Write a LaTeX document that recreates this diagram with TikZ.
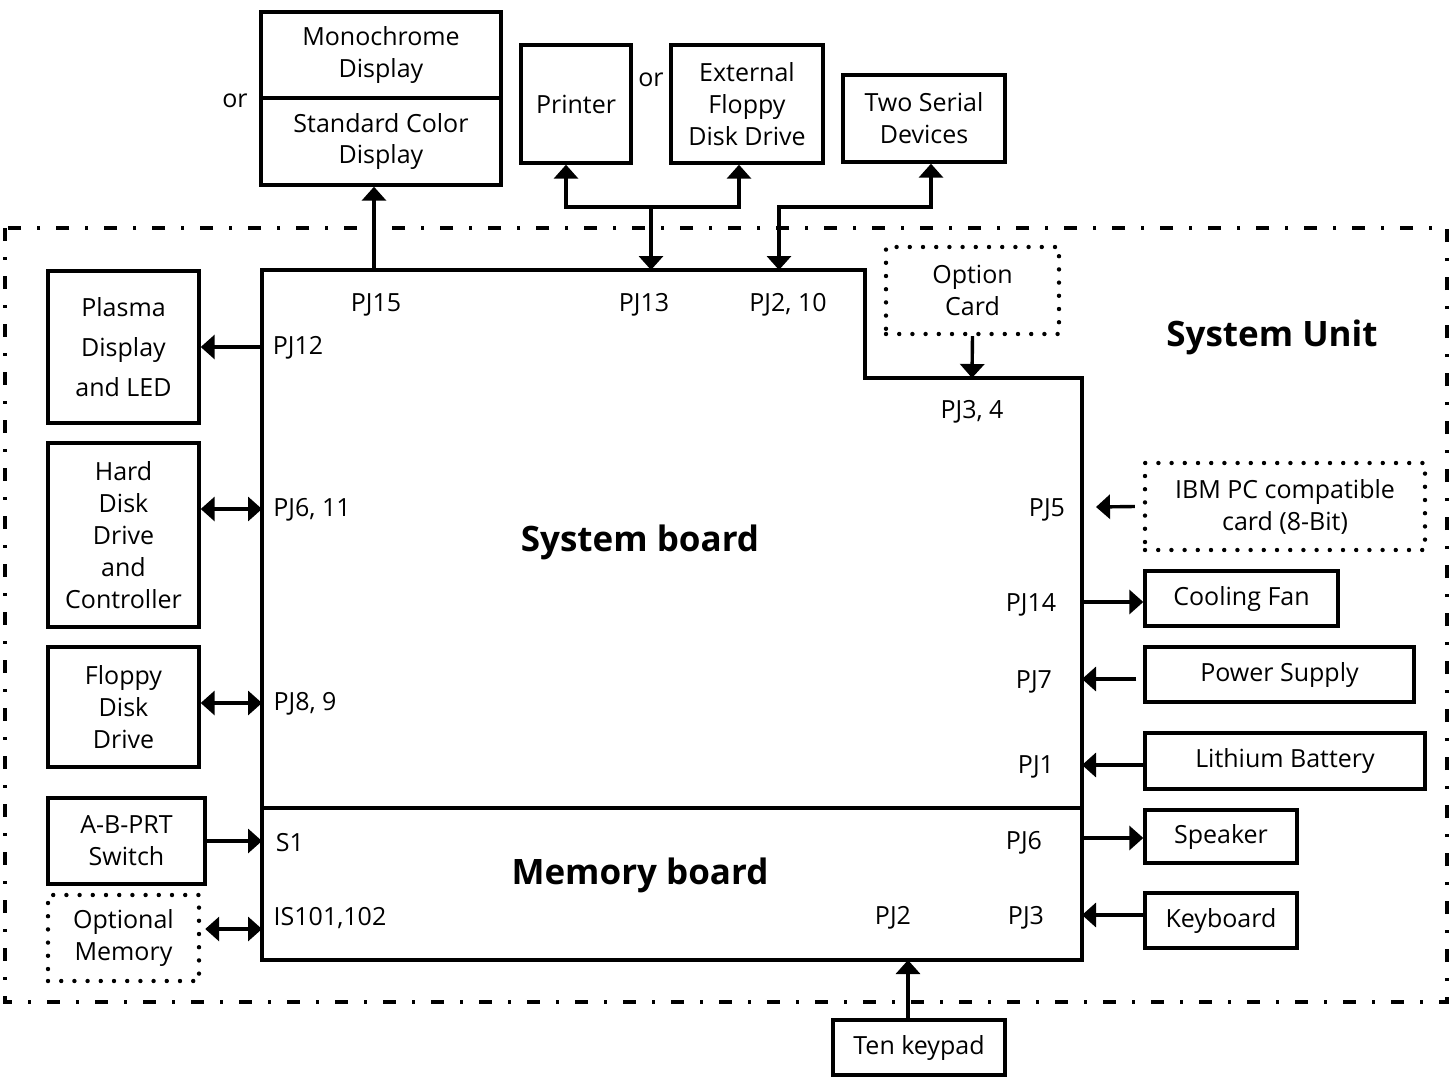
\documentclass[tikz,border=0pt]{standalone}
\usepackage{fontspec}
\setmainfont{Open Sans}
\usetikzlibrary{arrows.meta}
\tikzset{
  box/.style={draw, line width=1.7pt, align=center, inner sep=0pt,
    font=\fontsize{12.5}{16}\selectfont},
  optbox/.style={box, line width=2.2pt, line cap=round, dash pattern=on 0pt off 6.6pt},
  board/.style={line width=1.7pt},
  unit/.style={line width=1.6pt, dash pattern=on 6.5pt off 8pt on 1.5pt off 8pt},
  port/.style={font=\fontsize{12.5}{16}\selectfont, yshift=-1.5pt},
  title/.style={font=\fontsize{17.5}{20}\selectfont\bfseries, yshift=-2pt},
  arr/.style={line width=1.7pt, -{Triangle[length=7pt,width=12pt]}},
  arrboth/.style={line width=1.7pt, {Triangle[length=7pt,width=12pt]}-{Triangle[length=7pt,width=12pt]}}
}

\begin{document}
\begin{tikzpicture}[x=0.5pt, y=-0.5pt]
\useasboundingbox (0,0) rectangle (1453,1077);
% System unit
    \draw[unit] (5,228) rectangle (1447,1002);
    \node[title] (unitlabel) at (1272,333) {System Unit};
% Boards
    \draw[board] (262,808) -- (262,270) -- (865,270) -- (865,378) -- (1082,378) -- (1082,808) -- cycle;
    \draw[board] (262,808) rectangle (1082,960);
    \node[title] (sysboard) at (640,538) {System board};
    \node[title] (memboard) at (640,871) {Memory board};
% Ports
    \coordinate (pj15) at (374,270);
    \coordinate (pj13) at (651,270);
    \coordinate (pj210) at (779,270);
    \coordinate (pj34) at (972,378);
    \coordinate (pj12) at (262,347);
    \coordinate (pj611) at (262,509);
    \coordinate (pj89) at (262,703);
    \coordinate (s1) at (262,841);
    \coordinate (is101) at (262,929);
    \coordinate (pj5) at (1096,507);
    \coordinate (pj14) at (1082,602);
    \coordinate (pj7) at (1082,679);
    \coordinate (pj1) at (1082,765);
    \coordinate (pj6) at (1082,838);
    \coordinate (pj3) at (1082,915);
    \coordinate (pj2) at (908,960);
    \coordinate (split) at (651,207);
    \coordinate (bend) at (779,207);
    \node[port] (lpj15) at (376,302) {PJ15};
    \node[port] (lpj13) at (644,302) {PJ13};
    \node[port] (lpj210) at (788,302) {PJ2, 10};
    \node[port] (lpj12) at (298,345) {PJ12};
    \node[port] (lpj611) at (312,507) {PJ6, 11};
    \node[port] (lpj89) at (305,701) {PJ8, 9};
    \node[port] (lpj34) at (972,409) {PJ3, 4};
    \node[port] (lpj5) at (1047,507) {PJ5};
    \node[port] (lpj14) at (1031,602) {PJ14};
    \node[port] (lpj7) at (1034,679) {PJ7};
    \node[port] (lpj1) at (1036,764) {PJ1};
    \node[port] (ls1) at (290,840) {S1};
    \node[port] (lis101) at (330,915) {IS101,102};
    \node[port] (lpj6) at (1024,840) {PJ6};
    \node[port] (lpj2) at (893,915) {PJ2};
    \node[port] (lpj3) at (1026,915) {PJ3};
% Outside devices
    \node[box, minimum width=120pt, minimum height=43pt] (mono) at (381,55) {Monochrome\\Display};
    \node[box, minimum width=120pt, minimum height=43.5pt] (color) at (381,141.5) {Standard Color\\Display};
    \node[port] (or1) at (235,98) {or};
    \node[box, minimum width=55pt, minimum height=59pt] (printer) at (576,104) {Printer};
    \node[port] (or2) at (651,77) {or};
    \node[box, minimum width=76pt, minimum height=59pt] (extfloppy) at (747,104) {External\\Floppy\\Disk Drive};
    \node[box, minimum width=81pt, minimum height=43.5pt] (serial) at (924,118.5) {Two Serial\\Devices};
    \node[box, minimum width=86pt, minimum height=27.5pt] (tenkey) at (919,1047.5) {Ten keypad};
% Inside devices, left
    \node[box, minimum width=75.5pt, minimum height=76pt, font=\fontsize{12.5}{20}\selectfont] (plasma) at (123.5,347) {Plasma\\Display\\and LED};
    \node[box, minimum width=75.5pt, minimum height=92pt] (hdd) at (123.5,535) {Hard\\Disk\\Drive\\and\\Controller};
    \node[box, minimum width=75.5pt, minimum height=60pt] (fdd) at (123.5,707) {Floppy\\Disk\\Drive};
    \node[box, minimum width=78.5pt, minimum height=43pt] (abprt) at (126.5,841) {A-B-PRT\\Switch};
    \node[optbox, minimum width=75.5pt, minimum height=43pt] (optmem) at (123.5,938) {Optional\\Memory};
% Inside devices, right
    \node[optbox, minimum width=86.5pt, minimum height=43.5pt] (optcard) at (972.5,290.5) {Option\\Card};
    \node[optbox, minimum width=140pt, minimum height=43.5pt] (ibm) at (1285,506.5) {IBM PC compatible\\card (8-Bit)};
    \node[box, minimum width=96.5pt, minimum height=27.5pt] (fan) at (1241.5,598.5) {Cooling Fan};
    \node[box, minimum width=134.5pt, minimum height=27.5pt] (power) at (1279.5,674.5) {Power Supply};
    \node[box, minimum width=140pt, minimum height=28pt] (battery) at (1285,761) {Lithium Battery};
    \node[box, minimum width=76pt, minimum height=26.5pt] (speaker) at (1221,836.5) {Speaker};
    \node[box, minimum width=76pt, minimum height=27.5pt] (keyboard) at (1221,920.5) {Keyboard};
% Connections
    \draw[arr] (pj15) -- (pj15 |- color.south);
    \draw[arrboth] ([xshift=-5pt]printer.south) |- (split) -| ([xshift=-4pt]extfloppy.south);
    \draw[arr] (split) -- (pj13);
    \draw[arrboth] ([xshift=3.5pt]serial.south) |- (bend) -- (pj210);
    \draw[arr] (optcard.south) -- (pj34);
    \draw[arr] (pj12) -- (plasma.east);
    \draw[arrboth] (hdd.east |- pj611) -- (pj611);
    \draw[arrboth] (fdd.east |- pj89) -- (pj89);
    \draw[arr] (abprt.east |- s1) -- (s1);
    \draw[arrboth] ([xshift=2pt]optmem.east |- is101) -- (is101);
    \draw[arr] ([xshift=-4pt]ibm.west) -- (pj5);
    \draw[arr] (pj14) -- (fan.west |- pj14);
    \draw[arr] ([xshift=-3.5pt]power.west |- pj7) -- (pj7);
    \draw[arr] (battery.west |- pj1) -- (pj1);
    \draw[arr] (pj6) -- (speaker.west |- pj6);
    \draw[arr] (keyboard.west |- pj3) -- (pj3);
    \draw[arr] (tenkey.north -| pj2) -- (pj2);
\end{tikzpicture}
\end{document}
